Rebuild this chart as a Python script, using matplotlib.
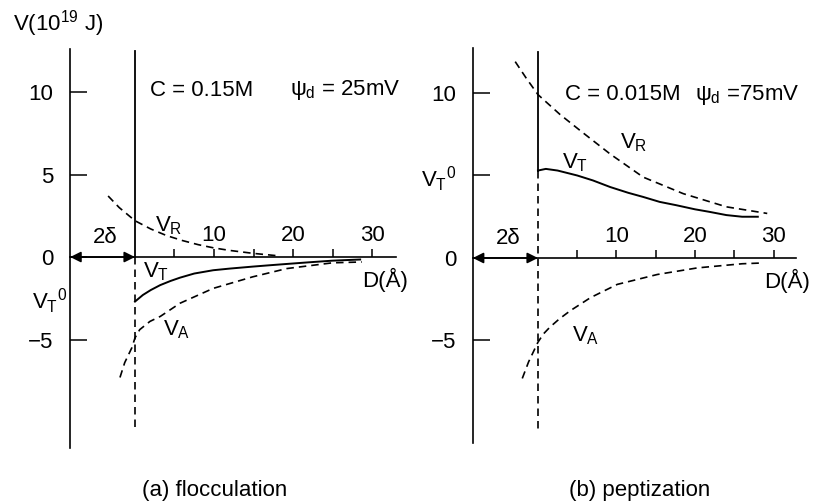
import matplotlib
matplotlib.use("Agg")
import matplotlib.pyplot as plt

plt.rcParams['font.family'] = ['Liberation Sans', 'DejaVu Sans']
plt.rcParams['mathtext.fontset'] = 'custom'
plt.rcParams['mathtext.rm'] = 'Liberation Sans'
plt.rcParams['mathtext.it'] = 'Liberation Sans'
plt.rcParams['mathtext.bf'] = 'Liberation Sans:bold'

# ---- data: D in Angstrom, V in 1e-19 J ----
# (a) flocculation, C = 0.15 M, psi_d = 25 mV
floc_vr_d = [-3.4, -2.0, 0.0, 2.0, 4.0, 6.0, 8.0, 10.0, 12.0, 15.0, 18.0]
floc_vr_v = [3.7, 3.0, 2.2, 1.7, 1.3, 1.0, 0.75, 0.55, 0.4, 0.22, 0.08]

floc_vt_d = [0.0, 1.0, 2.0, 3.2, 4.5, 5.7, 7.5, 9.9, 12.0, 14.9, 17.0, 19.2, 22.0, 25.0, 28.5]
floc_vt_v = [-2.7, -2.3, -2.0, -1.7, -1.45, -1.25, -1.0, -0.8, -0.7, -0.58, -0.5, -0.42, -0.32, -0.22, -0.15]

floc_va_d = [-1.9, -1.3, -0.4, 0.0, 0.6, 1.9, 3.2, 5.7, 9.9, 14.9, 19.2, 25.0, 28.7]
floc_va_v = [-7.3, -6.4, -5.5, -4.9, -4.4, -3.9, -3.6, -2.8, -1.9, -1.2, -0.7, -0.35, -0.3]

# (b) peptization, C = 0.015 M, psi_d = 75 mV
pept_vr_d = [-2.9, -1.5, 0.0, 2.8, 5.7, 9.2, 13.4, 18.5, 24.0, 29.2]
pept_vr_v = [11.9, 10.9, 9.9, 8.7, 7.6, 6.3, 4.9, 3.9, 3.1, 2.7]

pept_vt_d = [0.0, 1.0, 2.5, 5.0, 7.0, 9.2, 11.5, 13.4, 15.5, 17.6, 20.0, 21.8, 24.0, 26.0, 28.0]
pept_vt_v = [5.3, 5.4, 5.3, 5.0, 4.7, 4.3, 3.95, 3.7, 3.4, 3.2, 2.95, 2.8, 2.6, 2.5, 2.5]

pept_va_d = [-2.0, -1.2, -0.5, 0.0, 0.7, 1.5, 2.7, 4.1, 6.7, 10.1, 15.2, 20.3, 26.0, 28.7]
pept_va_v = [-7.3, -6.3, -5.6, -5.1, -4.6, -4.2, -3.7, -3.2, -2.4, -1.6, -1.0, -0.6, -0.35, -0.3]

x_ticks = [5, 10, 15, 20, 25, 30]
x_tick_labels = ['', '10', '', '20', '', '30']
y_ticks = [-5, 0, 5, 10]
floc_y_labels = ['\u22125', '0', '5', '10']
pept_y_labels = ['\u22125', '0', r'$V_T{}^0$', '10']

DASH = (0, (4.5, 3))
FS = 16


def draw_panel(ax, xlim, ylim, vr, vt, va, ylabels, vt0, conc, psi):
    ax.set_xlim(*xlim)
    ax.set_ylim(*ylim)
    ax.patch.set_alpha(0)
    for s in ['right', 'bottom']:
        ax.spines[s].set_visible(False)
    ax.spines['top'].set_position(('data', 0))
    ax.spines['top'].set_linewidth(1.2)
    ax.spines['left'].set_linewidth(1.2)
    ax.xaxis.set_ticks_position('top')
    ax.set_xticks(x_ticks)
    ax.set_xticklabels(x_tick_labels)
    ax.tick_params(axis='x', direction='out', length=6, width=1.1, pad=2, labelsize=FS)
    ax.set_yticks(y_ticks)
    ax.set_yticklabels(ylabels)
    ax.tick_params(axis='y', direction='in', length=12, width=1.1, pad=12, labelsize=FS)

    # divider at D = 0 (solid above the start of V_T, dashed below)
    ax.plot([0, 0], [vt0, 12.5], color='black', lw=1.3)
    ax.plot([0, 0], [vt0, -10.5], color='black', lw=1.2, ls=DASH)

    ax.plot(vr[0], vr[1], color='black', lw=1.2, ls=DASH)
    ax.plot(va[0], va[1], color='black', lw=1.2, ls=DASH)
    ax.plot(vt[0], vt[1], color='black', lw=1.4)

    # 2 delta arrow
    ax.annotate('', xy=(xlim[0], 0), xytext=(0, 0),
                arrowprops=dict(arrowstyle='<|-|>', color='black', lw=1.2,
                                mutation_scale=16, shrinkA=0, shrinkB=0))
    ax.text(-3.8, 1.2, '2\u03b4', fontsize=FS, ha='center', va='center')
    ax.text(34.6, -1.4, 'D(\u00c5)', fontsize=FS, ha='right', va='center', clip_on=False)
    ax.text(conc[0], conc[1], conc[2], fontsize=FS, ha='left', va='center')
    ax.text(psi[0], psi[1], psi[2], fontsize=FS, ha='left', va='center')


fig = plt.figure(figsize=(8.21, 5.03), dpi=100)

ax1 = fig.add_axes([0.0855, 0.1085, 0.3965, 0.7938])
draw_panel(ax1, (-8.2, 33.0), (-11.6, 12.6),
           (floc_vr_d, floc_vr_v), (floc_vt_d, floc_vt_v), (floc_va_d, floc_va_v),
           floc_y_labels, 0.0,
           (1.9, 10.1, 'C = 0.15M'), (19.6, 10.1, r'$\psi_d$ = 25mV'))
ax1.text(2.5, 1.9, r'$V_R$', fontsize=FS, ha='left', va='center')
ax1.text(1.0, -0.9, r'$V_T$', fontsize=FS, ha='left', va='center')
ax1.text(3.5, -4.4, r'$V_A$', fontsize=FS, ha='left', va='center')
ax1.text(-8.6, -2.7, r'$V_T{}^0$', fontsize=FS, ha='right', va='center', clip_on=False)

ax2 = fig.add_axes([0.5759, 0.1197, 0.394, 0.784])
draw_panel(ax2, (-8.3, 32.9), (-11.2, 12.7),
           (pept_vr_d, pept_vr_v), (pept_vt_d, pept_vt_v), (pept_va_d, pept_va_v),
           pept_y_labels, pept_vt_v[0],
           (3.4, 9.9, 'C = 0.015M'), (20.0, 9.9, r'$\psi_d$ =75mV'))
ax2.text(10.4, 7.0, r'$V_R$', fontsize=FS, ha='left', va='center')
ax2.text(3.1, 5.8, r'$V_T$', fontsize=FS, ha='left', va='center')
ax2.text(4.3, -4.7, r'$V_A$', fontsize=FS, ha='left', va='center')

fig.text(0.016, 0.953, r'V(10$^{19}$ J)', fontsize=FS, ha='left', va='center')
fig.text(0.262, 0.024, '(a) flocculation', fontsize=FS, ha='center', va='center')
fig.text(0.779, 0.024, '(b) peptization', fontsize=FS, ha='center', va='center')

fig.savefig('out.png', dpi=100)
